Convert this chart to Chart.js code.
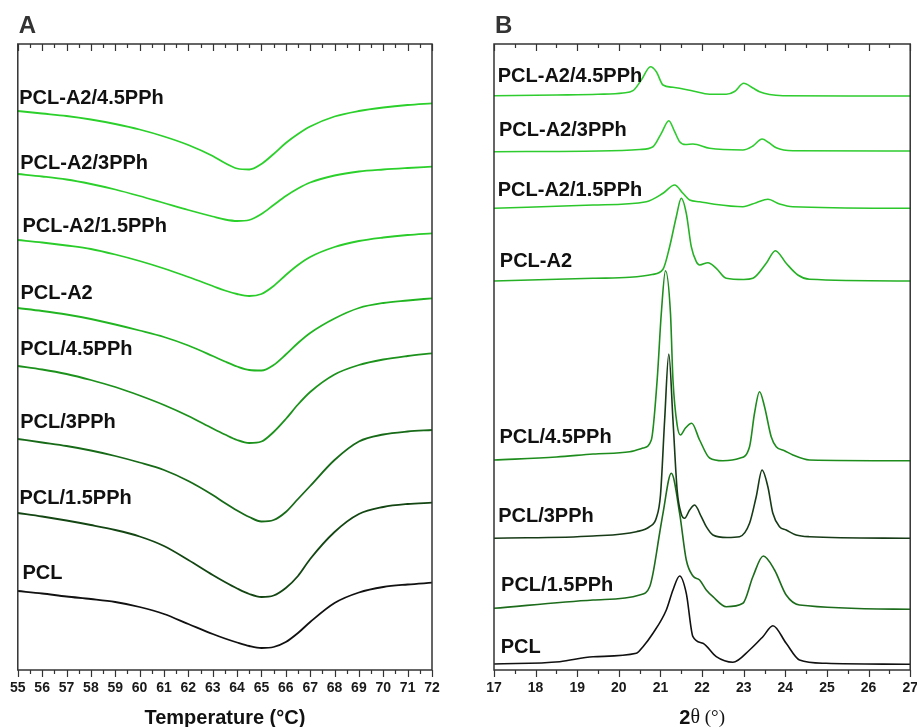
<!DOCTYPE html>
<html>
<head>
<meta charset="utf-8">
<script src="https://cdn.jsdelivr.net/npm/chart.js@4.4.1/dist/chart.umd.min.js"></script>
<style>
  html, body { margin: 0; padding: 0; background: #fff; overflow: hidden; width: 917px; height: 727px; }
  .panel { position: absolute; top: 0; }
</style>
</head>
<body>
<div class="panel" style="left:0"><canvas id="dscChart" width="458" height="727"></canvas></div>
<div class="panel" style="left:458px"><canvas id="xrdChart" width="470" height="727"></canvas></div>
<script>
// ===== A: DSC curves (heat flow, arbitrary offset units) =====
const temps = [55, 56, 57, 58, 59, 60, 61, 62, 63, 63.5, 64, 64.5, 65, 65.5, 66, 66.5, 67, 68, 69, 70, 71, 72];
const dscA2_45 = [55.9, 55.65, 55.4, 55.05, 54.6, 54.05, 53.35, 52.5, 51.4, 50.7, 50.15, 50.05, 50.6, 51.6, 52.7, 53.6, 54.35, 55.35, 55.9, 56.25, 56.5, 56.67];
const dscA2_3 = [49.6, 49.35, 49.05, 48.6, 48.05, 47.4, 46.7, 46.0, 45.35, 45.05, 44.9, 45.0, 45.6, 46.5, 47.4, 48.15, 48.75, 49.45, 49.85, 50.05, 50.2, 50.33];
const dscA2_15 = [43.0, 42.75, 42.45, 42.1, 41.55, 40.9, 40.15, 39.3, 38.4, 37.95, 37.6, 37.4, 37.6, 38.4, 39.5, 40.5, 41.3, 42.3, 42.9, 43.25, 43.5, 43.67];
const dscA2 = [36.2, 35.9, 35.55, 35.1, 34.55, 33.95, 33.3, 32.45, 31.4, 30.85, 30.35, 30.0, 29.95, 30.5, 31.55, 32.7, 33.7, 35.15, 36.2, 36.7, 36.95, 37.17];
const dscPCL_45 = [30.4, 30.05, 29.6, 29.0, 28.3, 27.45, 26.5, 25.4, 24.15, 23.55, 23.0, 22.7, 22.85, 23.8, 25.1, 26.55, 27.8, 29.55, 30.5, 31.05, 31.4, 31.67];
const dscPCL_3 = [23.1, 22.75, 22.4, 21.95, 21.4, 20.75, 20.0, 18.9, 17.5, 16.7, 15.95, 15.3, 14.85, 15.0, 15.8, 17.1, 18.4, 21.0, 22.85, 23.55, 23.85, 24.0];
const dscPCL_15 = [15.7, 15.35, 14.95, 14.5, 14.0, 13.35, 12.4, 11.0, 9.5, 8.8, 8.15, 7.6, 7.3, 7.45, 8.2, 9.4, 11.1, 13.8, 15.6, 16.3, 16.6, 16.73];
const dscPCL = [7.9, 7.65, 7.35, 7.1, 6.8, 6.3, 5.6, 4.6, 3.6, 3.15, 2.75, 2.4, 2.2, 2.3, 2.8, 3.7, 4.8, 6.7, 7.75, 8.3, 8.55, 8.73];

// ===== B: XRD patterns [2theta, intensity a.u.] =====
const xrdA2_45 = [[17, 57.43], [18.5, 57.5], [19.5, 57.57], [20.1, 57.7], [20.34, 57.93], [20.54, 59.0], [20.76, 60.33], [20.9, 59.83], [21.06, 58.5], [21.3, 58.27], [21.46, 58.17], [21.78, 57.9], [22.18, 57.57], [22.58, 57.57], [22.78, 57.85], [23.0, 58.67], [23.22, 58.2], [23.38, 57.83], [23.62, 57.55], [23.94, 57.43], [25.5, 57.4], [27, 57.4]];
const xrdA2_3 = [[17, 51.83], [19.5, 51.9], [20.5, 52.05], [20.82, 52.33], [21.02, 53.67], [21.2, 54.93], [21.34, 53.83], [21.46, 52.83], [21.6, 52.55], [21.78, 52.6], [22.18, 52.17], [22.98, 52.0], [23.22, 52.4], [23.44, 53.1], [23.6, 52.75], [23.78, 52.23], [24.18, 51.93], [27, 51.9]];
const xrdA2_15 = [[17, 46.17], [19.38, 46.5], [20.66, 46.83], [21.06, 47.67], [21.34, 48.5], [21.54, 47.67], [21.7, 47.0], [21.94, 46.83], [22.26, 46.6], [22.98, 46.33], [23.3, 46.73], [23.58, 47.07], [23.86, 46.6], [24.18, 46.33], [27, 46.17]];
const xrdA2 = [[17, 38.9], [19.38, 39.17], [20.26, 39.27], [20.8, 39.55], [21.06, 40.07], [21.22, 42.33], [21.38, 45.33], [21.5, 47.17], [21.62, 45.67], [21.74, 42.33], [21.86, 40.83], [21.94, 40.5], [22.14, 40.73], [22.34, 40.17], [22.58, 39.17], [23.0, 39.05], [23.22, 39.17], [23.54, 40.67], [23.76, 41.93], [24.02, 40.67], [24.3, 39.5], [24.58, 39.07], [27, 38.9]];
const xrdPCL_45 = [[17, 21.0], [18.5, 21.3], [19.38, 21.6], [20.26, 21.83], [20.58, 22.2], [20.78, 23.0], [20.92, 29.0], [21.02, 35.67], [21.12, 39.93], [21.24, 35.67], [21.3, 29.0], [21.4, 24.5], [21.48, 23.5], [21.6, 24.2], [21.75, 24.67], [21.94, 23.0], [22.18, 21.2], [22.5, 20.93], [22.9, 21.17], [23.14, 22.33], [23.26, 25.7], [23.38, 27.83], [23.5, 26.33], [23.66, 23.33], [23.78, 22.33], [23.98, 21.93], [24.18, 21.5], [24.58, 21.0], [27, 20.93]];
const xrdPCL_3 = [[17, 13.17], [19.38, 13.4], [20.42, 13.83], [20.74, 14.33], [20.9, 15.2], [21.0, 17.5], [21.1, 25.0], [21.2, 31.6], [21.3, 25.0], [21.4, 18.0], [21.5, 15.6], [21.58, 15.17], [21.7, 16.0], [21.82, 16.5], [21.98, 15.33], [22.1, 14.33], [22.26, 13.5], [22.6, 13.25], [22.9, 13.33], [23.14, 14.67], [23.3, 17.33], [23.44, 20.0], [23.58, 18.33], [23.7, 15.67], [23.86, 14.33], [24.02, 14.0], [24.26, 13.5], [24.58, 13.33], [27, 13.17]];
const xrdPCL_15 = [[17, 6.17], [19.38, 7.0], [20.5, 7.5], [20.74, 8.33], [20.82, 9.67], [20.98, 13.7], [21.06, 15.67], [21.26, 19.67], [21.46, 15.67], [21.62, 11.0], [21.78, 9.4], [21.94, 9.0], [22.1, 8.0], [22.26, 7.33], [22.58, 6.33], [22.98, 6.67], [23.22, 9.33], [23.47, 11.4], [23.74, 10.0], [24.02, 7.5], [24.34, 6.5], [27, 6.07]];
const xrdPCL = [[17, 0.6], [18.58, 0.83], [19.38, 1.33], [20.42, 1.67], [20.58, 2.33], [20.82, 3.67], [21.14, 6.0], [21.3, 8.0], [21.46, 9.4], [21.62, 7.67], [21.78, 3.33], [22.02, 2.67], [22.34, 1.33], [22.74, 0.77], [23.14, 2.0], [23.46, 3.33], [23.7, 4.43], [24.02, 2.67], [24.34, 1.0], [24.98, 0.67], [27, 0.57]];

const names = ['PCL-A2/4.5PPh', 'PCL-A2/3PPh', 'PCL-A2/1.5PPh', 'PCL-A2', 'PCL/4.5PPh', 'PCL/3PPh', 'PCL/1.5PPh', 'PCL'];

const SANS = '"Liberation Sans", Arial, sans-serif';
const SERIF = '"Liberation Serif", "Times New Roman", serif';

// frame, minor ticks, curve labels, panel letter and axis title
const framePlugin = {
    id: 'frame',
    afterDatasetsDraw(chart, args, opts) {
        const ctx = chart.ctx;
        const a = chart.chartArea;
        const x = chart.scales.x, y = chart.scales.y;
        ctx.save();
        ctx.strokeStyle = '#333';
        ctx.lineWidth = 1.5;
        ctx.strokeRect(a.left, a.top, a.right - a.left, a.bottom - a.top);
        ctx.lineWidth = 1.2;
        ctx.beginPath();
        for (let v = x.min; v <= x.max + 1e-6; v += 0.5) {
            const px = Math.round(x.getPixelForValue(v)) + 0.5;
            const len = Math.abs(v - Math.round(v)) < 1e-6 ? 7 : 4;
            ctx.moveTo(px, a.top); ctx.lineTo(px, a.top + len);
            ctx.moveTo(px, a.bottom); ctx.lineTo(px, a.bottom + len);
        }
        ctx.stroke();

        ctx.fillStyle = '#111';
        ctx.font = 'bold 20px ' + SANS;
        ctx.textAlign = 'left';
        ctx.textBaseline = 'middle';
        opts.labels.forEach(l => {
            ctx.fillText(l.text, x.getPixelForValue(l.x), y.getPixelForValue(l.y));
        });

        ctx.fillStyle = '#333';
        ctx.font = 'bold 24px ' + SANS;
        ctx.textBaseline = 'alphabetic';
        ctx.fillText(opts.letter, a.left + 1, 33);

        ctx.fillStyle = '#111';
        ctx.textBaseline = 'middle';
        const cx = (a.left + a.right) / 2, cy = a.bottom + 48;
        if (opts.title) {
            ctx.font = 'bold 20px ' + SANS;
            ctx.textAlign = 'center';
            ctx.fillText(opts.title, cx, cy);
        } else {
            // 2θ (°)
            const parts = [['2', 'bold 20px ' + SANS], ['\u03b8', '20px ' + SERIF], [' (\u00b0)', '19px ' + SERIF]];
            let w = 0;
            parts.forEach(p => { ctx.font = p[1]; w += ctx.measureText(p[0]).width; });
            let px = cx - w / 2;
            ctx.textAlign = 'left';
            parts.forEach(p => { ctx.font = p[1]; ctx.fillText(p[0], px, cy); px += ctx.measureText(p[0]).width; });
        }
        ctx.restore();
    }
};

function xAxis(min, max) {
    return {
        type: 'linear', min: min, max: max,
        grid: { display: false, drawTicks: false },
        border: { display: false },
        ticks: {
            stepSize: 1, autoSkip: false, maxRotation: 0, padding: 10,
            color: '#1a1a1a', font: { family: SANS, size: 14, weight: 'bold' }
        },
        afterFit: s => { s.height = 57; }
    };
}

function line(label, pts, color, w) {
    return {
        label: label, data: pts, borderColor: color, borderWidth: w,
        pointRadius: 0, fill: false, cubicInterpolationMode: 'monotone'
    };
}

// ===== Biểu đồ A =====
const dscSeries = [dscA2_45, dscA2_3, dscA2_15, dscA2, dscPCL_45, dscPCL_3, dscPCL_15, dscPCL];
const dscColors = ['#2bd02b', '#2bd02b', '#29cc29', '#22b522', '#1c921c', '#176a17', '#134613', '#111111'];
new Chart(document.getElementById('dscChart'), {
    type: 'line',
    data: {
        datasets: dscSeries.map((s, i) => line(names[i], s.map((v, j) => ({ x: temps[j], y: v })), dscColors[i], 1.8))
    },
    options: {
        responsive: false,
        animation: false,
        layout: { padding: { left: 15, top: 44, right: 26, bottom: 0 } },
        scales: {
            x: xAxis(55, 72),
            y: { display: false, min: 0, max: 62.6 }
        },
        plugins: {
            legend: { display: false },
            tooltip: { enabled: false },
            frame: {
                letter: 'A',
                title: 'Temperature (\u00b0C)',
                labels: [
                    { text: names[0], x: 55.06, y: 57.17 },
                    { text: names[1], x: 55.1, y: 50.67 },
                    { text: names[2], x: 55.19, y: 44.33 },
                    { text: names[3], x: 55.11, y: 37.67 },
                    { text: names[4], x: 55.1, y: 32.07 },
                    { text: names[5], x: 55.1, y: 24.73 },
                    { text: names[6], x: 55.07, y: 17.17 },
                    { text: names[7], x: 55.19, y: 9.67 }
                ]
            }
        }
    },
    plugins: [framePlugin]
});

// ===== Biểu đồ B =====
const xrdSeries = [xrdA2_45, xrdA2_3, xrdA2_15, xrdA2, xrdPCL_45, xrdPCL_3, xrdPCL_15, xrdPCL];
const xrdColors = ['#2ecc2e', '#2ecc2e', '#2bc72b', '#25b025', '#1d8c1d', '#173a17', '#1c6c1c', '#111111'];
new Chart(document.getElementById('xrdChart'), {
    type: 'line',
    data: {
        datasets: xrdSeries.map((s, i) => line(names[i], s.map(p => ({ x: p[0], y: p[1] })), xrdColors[i], 1.6))
    },
    options: {
        responsive: false,
        animation: false,
        layout: { padding: { left: 36, top: 44, right: 17, bottom: 0 } },
        scales: {
            x: xAxis(17, 27),
            y: { display: false, min: 0, max: 62.6 }
        },
        plugins: {
            legend: { display: false },
            tooltip: { enabled: false },
            frame: {
                letter: 'B',
                title: null,
                labels: [
                    { text: names[0], x: 17.09, y: 59.33 },
                    { text: names[1], x: 17.12, y: 53.93 },
                    { text: names[2], x: 17.09, y: 47.93 },
                    { text: names[3], x: 17.14, y: 40.83 },
                    { text: names[4], x: 17.13, y: 23.23 },
                    { text: names[5], x: 17.1, y: 15.33 },
                    { text: names[6], x: 17.17, y: 8.43 },
                    { text: names[7], x: 17.16, y: 2.23 }
                ]
            }
        }
    },
    plugins: [framePlugin]
});
</script>
</body>
</html>
